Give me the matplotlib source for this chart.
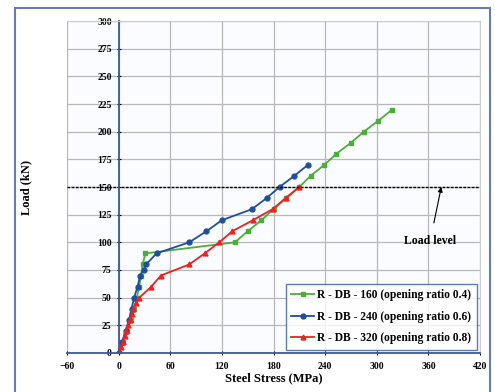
import matplotlib.pyplot as plt
from matplotlib.patches import Rectangle

# Data
db160_x = [0, 5, 10, 14, 18, 21, 24, 26, 28, 31, 135, 150, 166, 180, 195, 210, 223, 239, 253, 270, 285, 302, 318]
db160_y = [0, 10, 20, 30, 40, 50, 60, 70, 80, 90, 100, 110, 120, 130, 140, 150, 160, 170, 180, 190, 200, 210, 220]

db240_x = [0, 4, 8, 12, 15, 18, 22, 25, 29, 32, 44, 82, 102, 120, 155, 172, 187, 204, 220]
db240_y = [0, 10, 20, 30, 40, 50, 60, 70, 75, 80, 90, 100, 110, 120, 130, 140, 150, 160, 170]

db320_x = [0, 3, 5, 7, 9, 11, 13, 15, 17, 20, 24, 38, 49, 82, 100, 117, 132, 156, 179, 194, 210]
db320_y = [0, 5, 10, 15, 20, 25, 30, 35, 40, 45, 50, 60, 70, 80, 90, 100, 110, 120, 130, 140, 150]

labels = ["R - DB - 160 (opening ratio 0.4)",
          "R - DB - 240 (opening ratio 0.6)",
          "R - DB - 320 (opening ratio 0.8)"]
load_level = 150

plt.rcParams['font.family'] = ['Liberation Serif', 'DejaVu Serif']
plt.rcParams['font.weight'] = 'bold'

fig = plt.figure(figsize=(4.95, 3.92), dpi=100)
ax = fig.add_axes([0.1354, 0.0995, 0.8343, 0.8469])

# outer chart border
fig.patches.append(Rectangle((0.03, -0.01), 0.96, 0.99, transform=fig.transFigure,
                             fill=False, edgecolor='#6a7bb0', linewidth=1.5))

ax.plot(db160_x, db160_y, '-s', color='#4cae3a', markersize=3.5, linewidth=1.3, label=labels[0])
ax.plot(db240_x, db240_y, '-o', color='#1f4e9c', markersize=3.5, linewidth=1.3, label=labels[1])
ax.plot(db320_x, db320_y, '-^', color='#f02020', markersize=3.5, linewidth=1.3, label=labels[2])

ax.axhline(load_level, color='black', linestyle='--', linewidth=1, dashes=(2, 1))
ax.annotate("Load level", xy=(375, 150), xytext=(362, 101), fontsize=8.5, fontweight='bold',
            ha='center', va='center',
            arrowprops=dict(arrowstyle='-|>', color='black', lw=0.8, mutation_scale=7,
                            shrinkA=7, shrinkB=0))

ax.set_xlim(-60, 420)
ax.set_ylim(0, 300)
ax.set_xticks(range(-60, 421, 60))
ax.set_yticks(range(0, 301, 25))
ax.tick_params(labelsize=7, length=3, direction='inout', colors='black')
ax.tick_params(axis='x', pad=5)
ax.grid(True, color='#b8b8b8', linewidth=0.9)

ax.spines['left'].set_position(('data', 0))
for s in ['left', 'bottom']:
    ax.spines[s].set_color('#3a5a98')
    ax.spines[s].set_linewidth(1.3)
for s in ['top', 'right']:
    ax.spines[s].set_color('#cccccc')
ax.set_facecolor('#fbfcff')

ax.set_xlabel("Steel Stress (MPa)", fontsize=9, fontweight='bold', labelpad=1)
ax.set_ylabel("Load (kN)", fontsize=9, fontweight='bold')
ax.yaxis.set_label_coords(-0.085, 0.5)

leg = ax.legend(loc='lower right', fontsize=8.3, frameon=True, fancybox=False,
                edgecolor='#3a5a98', handlelength=2.0, handletextpad=0.2,
                borderpad=0.5, labelspacing=0.8, borderaxespad=0.3)
leg.get_frame().set_linewidth(1.0)

fig.savefig('out.png', dpi=100)
